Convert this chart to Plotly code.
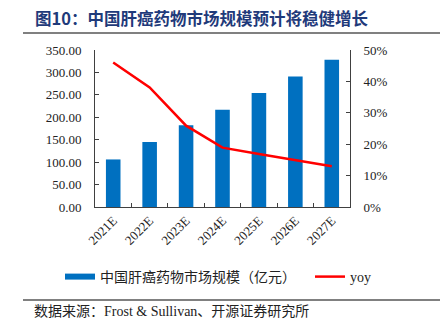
import plotly.graph_objects as go

years = ["2021E", "2022E", "2023E", "2024E", "2025E", "2026E", "2027E"]
market = [106, 145, 182, 217, 254, 291, 328]
yoy = [0.46, 0.381, 0.259, 0.189, 0.169, 0.15, 0.13]

bar_name = "中国肝癌药物市场规模（亿元）"
line_name = "yoy"
title_text = "图10：中国肝癌药物市场规模预计将稳健增长"
source_text = "数据来源：Frost & Sullivan、开源证券研究所"

W, H = 443, 324
L, R, T, B = 95, 350, 50, 207

def px(x):
    return (x - L) / (R - L)

def py(y):
    return (B - y) / (B - T)

serif = "Liberation Serif, Times New Roman, serif"
mixed = "Liberation Serif, Noto Sans CJK SC"
cjk = "Noto Sans CJK SC"
blue = "#0070C0"
axis_col = "#404040"

fig = go.Figure()
fig.add_trace(go.Bar(x=years, y=market, marker_color=blue, marker_line_width=0,
                     name=bar_name, showlegend=False, width=0.4))
fig.add_trace(go.Scatter(x=[None], y=[None], mode="lines", name=bar_name,
                         line=dict(color=blue, width=6), legend="legend"))
fig.add_trace(go.Scatter(x=years, y=yoy, mode="lines", name=line_name, yaxis="y2",
                         line=dict(color="#FF0000", width=2.5), legend="legend2"))

leg_common = dict(orientation="h", xanchor="left", yanchor="middle",
                  font=dict(family=mixed, size=14, color="#222"), bgcolor="rgba(0,0,0,0)",
                  itemwidth=30)

fig.update_layout(
    width=W, height=H,
    margin=dict(l=L, r=W - R, t=T, b=H - B),
    paper_bgcolor="white", plot_bgcolor="white",
    showlegend=True,
    legend=dict(x=px(60), y=py(277), **leg_common),
    legend2=dict(x=px(310), y=py(277), **leg_common),
    xaxis=dict(range=[-0.5, 6.5], showline=True, linecolor=axis_col, linewidth=1,
               ticks="inside", tickson="boundaries", ticklen=4, tickcolor=axis_col,
               tickangle=-45, tickfont=dict(family=serif, size=13, color="#222"),
               showgrid=False, mirror=False),
    yaxis=dict(range=[0, 350], dtick=50, tickformat=".2f", showline=True, linecolor=axis_col,
               ticks="inside", ticklen=4, tickcolor=axis_col, showgrid=False, zeroline=False,
               tickfont=dict(family=serif, size=13, color="#222"), ticklabelstandoff=10),
    yaxis2=dict(range=[0, 0.5], dtick=0.1, tickformat=".0%", overlaying="y", side="right",
                showline=True, linecolor=axis_col, ticks="inside", ticklen=4, tickcolor=axis_col,
                showgrid=False, zeroline=False,
                tickfont=dict(family=serif, size=13, color="#222"), ticklabelstandoff=10),
)

# header and footer rules
for yy in (33, 300):
    fig.add_shape(type="line", xref="paper", yref="paper", x0=px(23), x1=px(440),
                  y0=py(yy), y1=py(yy), line=dict(color="#808080", width=2))

fig.add_annotation(text="<b>" + title_text + "</b>", xref="paper", yref="paper",
                   x=px(33), y=py(18), xanchor="left", yanchor="middle", showarrow=False,
                   font=dict(family=cjk, size=16.5, color="#1F3A7A"))
fig.add_annotation(text=source_text, xref="paper", yref="paper",
                   x=px(32), y=py(311), xanchor="left", yanchor="middle", showarrow=False,
                   font=dict(family=mixed, size=14, color="#222"))

fig.write_html("out.html")
